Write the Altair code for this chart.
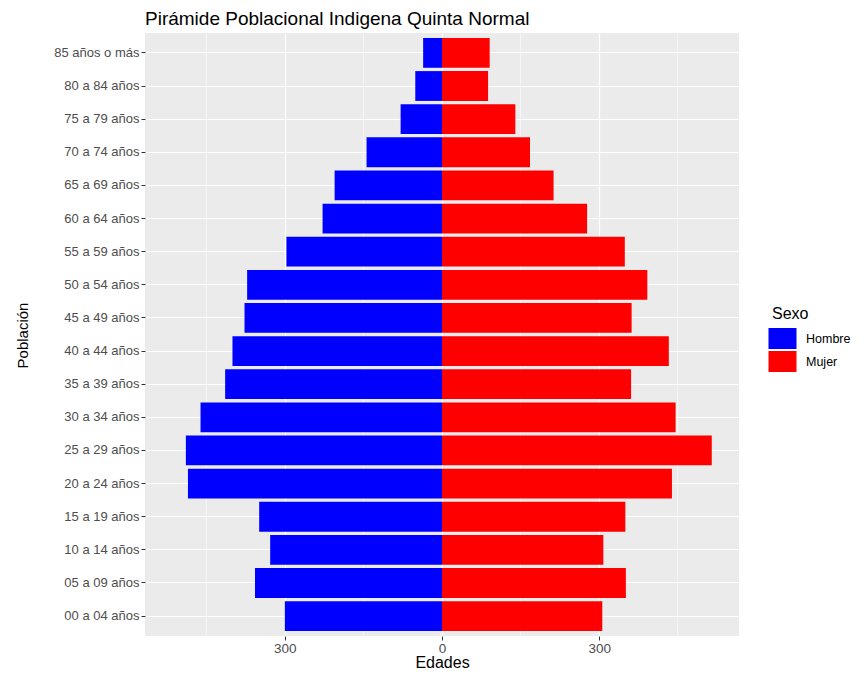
import altair as alt
import pandas as pd

grupos = ["00 a 04 años", "05 a 09 años", "10 a 14 años", "15 a 19 años",
          "20 a 24 años", "25 a 29 años", "30 a 34 años", "35 a 39 años",
          "40 a 44 años", "45 a 49 años", "50 a 54 años", "55 a 59 años",
          "60 a 64 años", "65 a 69 años", "70 a 74 años", "75 a 79 años",
          "80 a 84 años", "85 años o más"]
hombres = [300, 357, 328, 349, 485, 489, 461, 414, 400, 377, 372, 297,
           228, 205, 144, 79, 51, 36]
mujeres = [306, 351, 308, 350, 439, 515, 446, 361, 433, 362, 392, 349,
           277, 213, 168, 140, 88, 91]
sexos = ["Hombre", "Mujer"]
colores = ["#0000FF", "#FF0000"]
ticks_mayores = [-300, 0, 300]
ticks_menores = [-450, -150, 150, 450]

rows = []
for g, h, m in zip(grupos, hombres, mujeres):
    rows.append({"Población": g, "Sexo": "Hombre", "valor": -h})
    rows.append({"Población": g, "Sexo": "Mujer", "valor": m})
df = pd.DataFrame(rows)
df_minor = pd.DataFrame({"v": ticks_menores})

FONT = "Liberation Sans"
xscale = alt.Scale(domain=[-567, 567], nice=False, zero=False)
yscale = alt.Scale(domain=list(reversed(grupos)), paddingInner=0.1, paddingOuter=0.15)

minor = alt.Chart(df_minor).mark_rule(color="white", strokeWidth=0.6).encode(
    x=alt.X("v:Q", scale=xscale, axis=None)
)

bars = alt.Chart(df).mark_bar().encode(
    x=alt.X("valor:Q", scale=xscale, stack=None,
            axis=alt.Axis(values=ticks_mayores, title="Edades",
                          labelExpr="format(abs(datum.value), 'd')",
                          grid=True, gridColor="white", gridWidth=1.2,
                          domain=False, ticks=True, tickColor="#333333",
                          tickSize=4, labelPadding=1, labelColor="#4D4D4D",
                          labelFontSize=13.5, labelFont=FONT,
                          titleFont=FONT, titleFontSize=16,
                          titleFontWeight="normal", titleColor="black",
                          titlePadding=0)),
    y=alt.Y("Población:N", scale=yscale,
            axis=alt.Axis(title="Población", grid=True, gridColor="white",
                          gridWidth=1.2, bandPosition=0.5, domain=False,
                          tickColor="#333333", tickSize=4, labelPadding=2,
                          labelColor="#4D4D4D", labelFontSize=13,
                          labelFont=FONT, titleFont=FONT, titleFontSize=15,
                          titleFontWeight="normal", titleColor="black",
                          titleAngle=-90, titleX=-118, titleY=302,
                          titleBaseline="alphabetic", titleAlign="center")),
    color=alt.Color("Sexo:N", scale=alt.Scale(domain=sexos, range=colores),
                    legend=alt.Legend(title="Sexo", orient="none",
                                      legendX=627, legendY=273,
                                      symbolType="M-1.333,-1H1.333V1H-1.333Z",
                                      symbolSize=441, symbolStrokeWidth=0,
                                      symbolOpacity=1,
                                      labelOffset=13, rowPadding=2,
                                      titleFont=FONT, titleFontSize=16,
                                      titleFontWeight="normal",
                                      titleColor="black", titlePadding=6,
                                      labelFont=FONT, labelFontSize=12.5,
                                      labelColor="black")),
)

chart = alt.layer(minor, bars).resolve_axis(x="independent").properties(
    width=594, height=603,
    title=alt.TitleParams(text="Pirámide Poblacional Indigena Quinta Normal",
                          anchor="start", frame="group", font=FONT,
                          fontSize=19, fontWeight="normal", color="black",
                          offset=4),
    autosize=alt.AutoSizeParams(type="none"),
    padding={"left": 137, "top": 25, "right": 118, "bottom": 37},
).configure_view(fill="#EBEBEB", stroke=None)

chart.save("out.html", embed_options={"renderer": "svg", "actions": False})
